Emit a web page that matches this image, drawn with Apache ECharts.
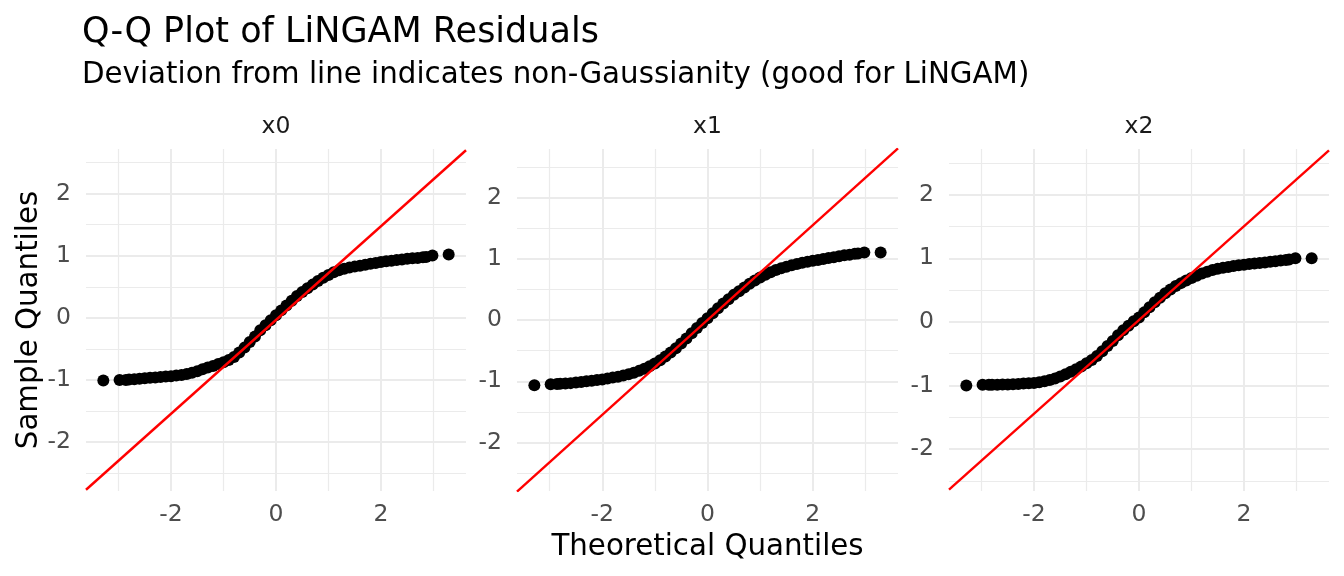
<!DOCTYPE html>
<html>
<head>
<meta charset="utf-8">
<title>Q-Q Plot of LiNGAM Residuals</title>
<script src="https://cdn.jsdelivr.net/npm/echarts@6/dist/echarts.min.js"></script>
<style>
  html, body { margin: 0; padding: 0; background: #ffffff; }
  #chart { width: 1344px; height: 576px; }
</style>
</head>
<body>
<div id="chart"></div>
<script>
// theoretical normal quantiles, shared by the three facets
const theoreticalQ = [
  -3.29, -2.98, -2.86, -2.8, -2.7, -2.6, -2.5, -2.4, -2.3, -2.2, -2.1,
  -2.0, -1.9, -1.8, -1.7, -1.6, -1.5, -1.4, -1.3, -1.2, -1.1,
  -1.0, -0.9, -0.8, -0.7, -0.6, -0.5, -0.4, -0.3, -0.2, -0.1,
  0.0, 0.1, 0.2, 0.3, 0.4, 0.5, 0.6, 0.7, 0.8, 0.9,
  1.0, 1.1, 1.2, 1.3, 1.4, 1.5, 1.6, 1.7, 1.8, 1.9,
  2.0, 2.1, 2.2, 2.3, 2.4, 2.5, 2.6, 2.7, 2.8, 2.86, 2.98, 3.29
];

// sample quantiles of the residuals, one list per facet
const sampleX0 = [
  -1.01, -1.00, -1.00, -0.995, -0.99, -0.98, -0.975, -0.965, -0.96, -0.955, -0.945,
  -0.94, -0.93, -0.92, -0.905, -0.885, -0.86, -0.83, -0.80, -0.775, -0.745,
  -0.715, -0.68, -0.63, -0.56, -0.48, -0.39, -0.30, -0.20, -0.12, -0.04,
  0.04, 0.12, 0.20, 0.275, 0.35, 0.415, 0.475, 0.535, 0.595, 0.645,
  0.69, 0.735, 0.765, 0.79, 0.81, 0.825, 0.84, 0.855, 0.87, 0.885,
  0.90, 0.91, 0.92, 0.93, 0.94, 0.95, 0.96, 0.965, 0.975, 0.98, 1.005, 1.02
];
const sampleX1 = [
  -1.065, -1.05, -1.045, -1.04, -1.035, -1.03, -1.02, -1.01, -1.0, -0.99, -0.98,
  -0.97, -0.955, -0.94, -0.925, -0.905, -0.885, -0.86, -0.83, -0.795, -0.755,
  -0.71, -0.655, -0.595, -0.53, -0.46, -0.385, -0.30, -0.215, -0.13, -0.05,
  0.03, 0.11, 0.19, 0.27, 0.34, 0.41, 0.47, 0.53, 0.59, 0.645,
  0.695, 0.74, 0.78, 0.815, 0.845, 0.87, 0.895, 0.915, 0.935, 0.95,
  0.965, 0.98, 0.995, 1.01, 1.025, 1.04, 1.055, 1.065, 1.08, 1.085, 1.10, 1.10
];
const sampleX2 = [
  -1.00, -0.99, -0.99, -0.99, -0.99, -0.985, -0.985, -0.98, -0.975, -0.97, -0.965,
  -0.96, -0.95, -0.935, -0.915, -0.89, -0.86, -0.825, -0.785, -0.745, -0.70,
  -0.65, -0.60, -0.535, -0.46, -0.38, -0.30, -0.21, -0.13, -0.06, 0.01,
  0.07, 0.15, 0.23, 0.31, 0.38, 0.45, 0.51, 0.565, 0.61, 0.65,
  0.69, 0.725, 0.76, 0.79, 0.815, 0.835, 0.85, 0.865, 0.88, 0.89,
  0.90, 0.91, 0.92, 0.925, 0.935, 0.945, 0.955, 0.965, 0.975, 0.98, 1.00, 1.00
];

// reference line ends per facet (where the red line meets the panel edges)
const refLine0 = [[-3.62, -2.77], [3.62, 2.70]];
const refLine1 = [[-3.62, -2.80], [3.62, 2.80]];
const refLine2 = [[-3.62, -2.64], [3.62, 2.70]];

const facetNames = ["x0", "x1", "x2"];
const xRange = [-3.62, 3.62];
const yRanges = [[-2.79, 2.72], [-2.79, 2.79], [-2.66, 2.72]];
const xMajorTicks = [-2, 0, 2];
const xMinorTicks = [-3, -1, 1, 3];
const yMajorTicks = [-2, -1, 0, 1, 2];
const yMinorTicks = [-2.5, -1.5, -0.5, 0.5, 1.5, 2.5];

const FONT = "DejaVu Sans";
const GRID_COLOR = "#EBEBEB";
const panelLefts = [86, 517, 949];
const panelWidths = [380, 381, 380];
const PANEL_TOP = 149;
const PANEL_HEIGHT = 342;

const samples = [sampleX0, sampleX1, sampleX2];
const refLines = [refLine0, refLine1, refLine2];

const grids = [];
const xAxes = [];
const yAxes = [];
const series = [];

facetNames.forEach((name, i) => {
  grids.push({
    left: panelLefts[i],
    top: PANEL_TOP,
    width: panelWidths[i],
    height: PANEL_HEIGHT,
    containLabel: false
  });

  // major x gridlines + tick labels
  xAxes.push({
    type: "value",
    gridIndex: i,
    position: "bottom",
    min: xRange[0],
    max: xRange[1],
    axisLine: { show: false },
    axisTick: { show: false, customValues: xMajorTicks },
    axisLabel: {
      customValues: xMajorTicks,
      margin: 12,
      color: "#4D4D4D",
      fontSize: 23.5,
      fontFamily: FONT
    },
    splitLine: { show: true, lineStyle: { color: GRID_COLOR, width: 2 } },
    name: i === 1 ? "Theoretical Quantiles" : "",
    nameLocation: "middle",
    nameGap: 42,
    nameTextStyle: { color: "#000000", fontSize: 29.3, fontFamily: FONT }
  });
  // minor x gridlines, strip label on top
  xAxes.push({
    type: "value",
    gridIndex: i,
    position: "top",
    min: xRange[0],
    max: xRange[1],
    axisLine: { show: false },
    axisTick: { show: false, customValues: xMinorTicks },
    axisLabel: { show: false },
    splitLine: { show: true, lineStyle: { color: GRID_COLOR, width: 1.2 } },
    name: name,
    nameLocation: "middle",
    nameGap: 10,
    nameTextStyle: { color: "#1A1A1A", fontSize: 23.5, fontFamily: FONT }
  });

  yAxes.push({
    type: "value",
    gridIndex: i,
    position: "left",
    min: yRanges[i][0],
    max: yRanges[i][1],
    axisLine: { show: false },
    axisTick: { show: false, customValues: yMajorTicks },
    axisLabel: {
      customValues: yMajorTicks,
      margin: 15,
      color: "#4D4D4D",
      fontSize: 23.5,
      fontFamily: FONT
    },
    splitLine: { show: true, lineStyle: { color: GRID_COLOR, width: 2 } },
    name: i === 0 ? "Sample Quantiles" : "",
    nameLocation: "middle",
    nameRotate: 90,
    nameGap: 41,
    nameTextStyle: { color: "#000000", fontSize: 29.3, fontFamily: FONT }
  });
  yAxes.push({
    type: "value",
    gridIndex: i,
    position: "right",
    min: yRanges[i][0],
    max: yRanges[i][1],
    axisLine: { show: false },
    axisTick: { show: false, customValues: yMinorTicks },
    axisLabel: { show: false },
    splitLine: { show: true, lineStyle: { color: GRID_COLOR, width: 1.2 } }
  });

  series.push({
    name: name,
    type: "scatter",
    xAxisIndex: i * 2,
    yAxisIndex: i * 2,
    symbol: "circle",
    symbolSize: 12,
    itemStyle: { color: "#000000", opacity: 1 },
    data: theoreticalQ.map((q, k) => [q, samples[i][k]]),
    z: 3
  });
  series.push({
    name: name + " line",
    type: "line",
    xAxisIndex: i * 2,
    yAxisIndex: i * 2,
    symbol: "none",
    clip: true,
    lineStyle: { color: "#FF0000", width: 2.4 },
    data: refLines[i],
    z: 4
  });
});

const chart = echarts.init(document.getElementById("chart"), null, { renderer: "canvas" });
chart.setOption({
  backgroundColor: "#ffffff",
  animation: false,
  textStyle: { fontFamily: FONT },
  title: [
    {
      text: "Q-Q Plot of LiNGAM Residuals",
      left: 82,
      top: 15,
      padding: 0,
      textStyle: { fontSize: 35, fontWeight: "normal", color: "#000000", fontFamily: FONT }
    },
    {
      text: "Deviation from line indicates non-Gaussianity (good for LiNGAM)",
      left: 82,
      top: 61,
      padding: 0,
      textStyle: { fontSize: 29.3, fontWeight: "normal", color: "#000000", fontFamily: FONT }
    }
  ],
  grid: grids,
  xAxis: xAxes,
  yAxis: yAxes,
  series: series
});
</script>
</body>
</html>
